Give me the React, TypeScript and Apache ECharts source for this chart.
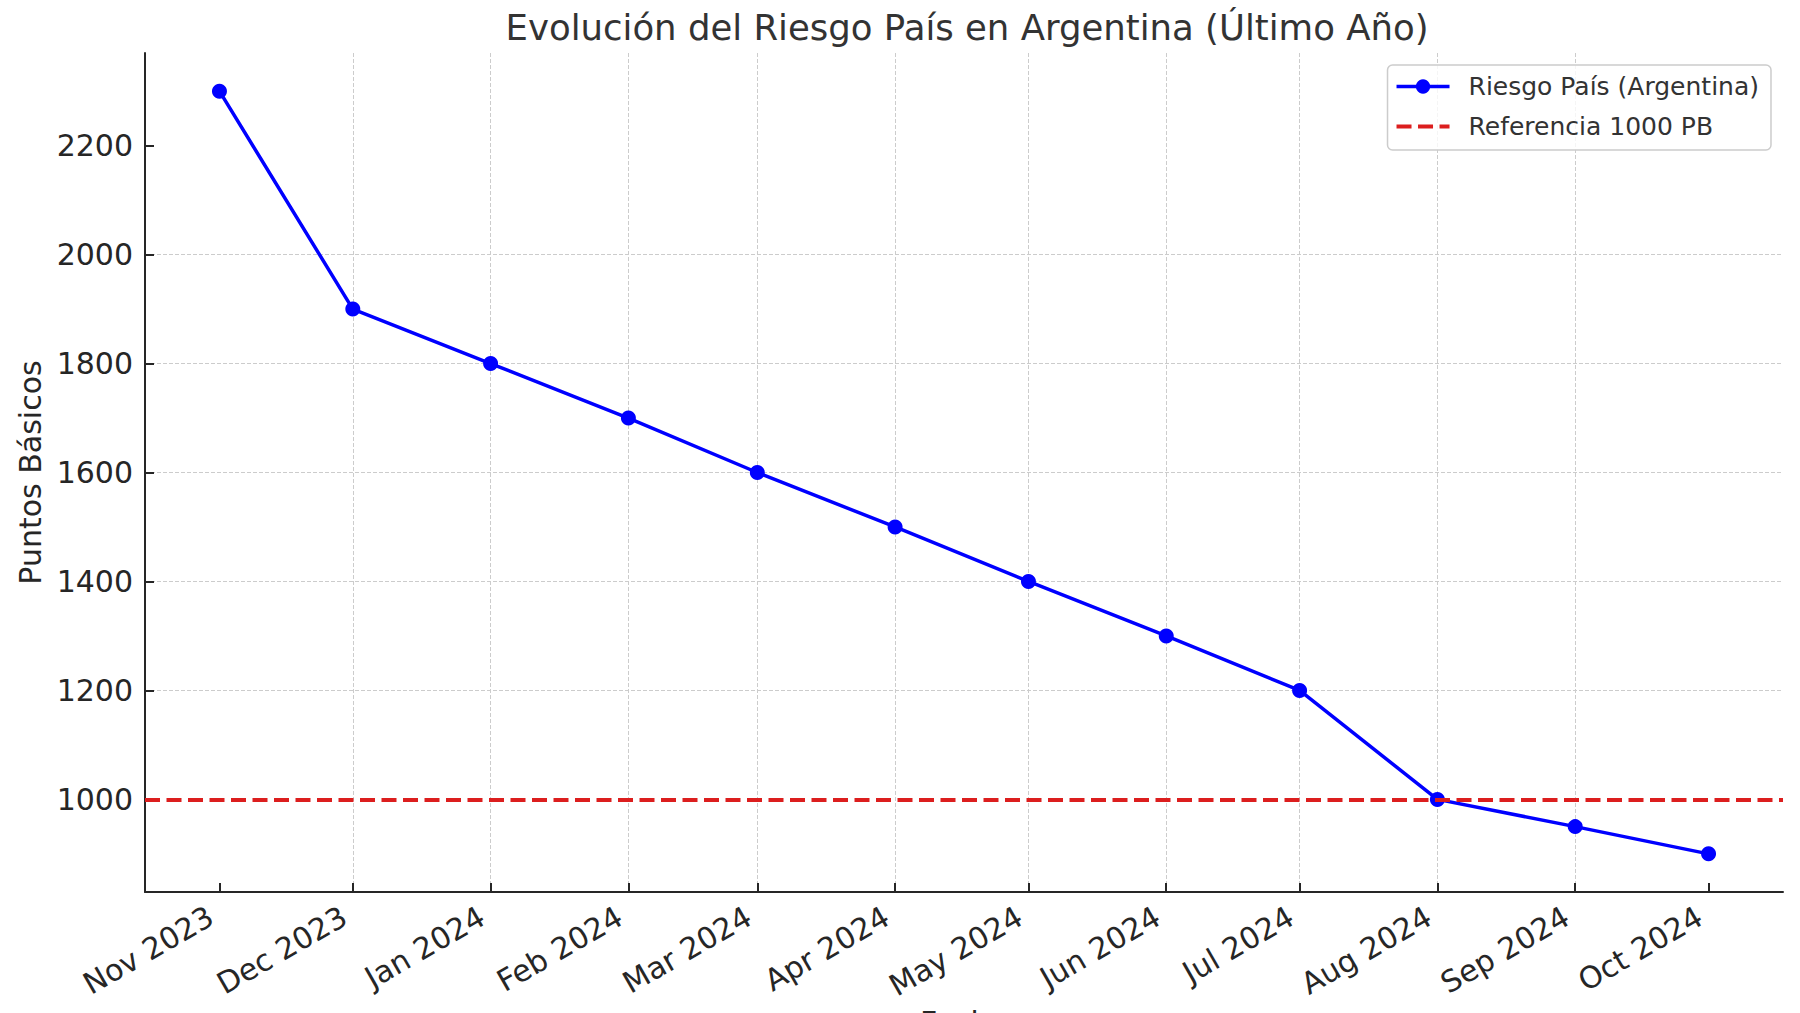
import React, { useEffect, useRef } from "react";
import * as echarts from "echarts";

// ---- data ----
const fechas = [
  "2023-11-01", "2023-12-01", "2024-01-01", "2024-02-01", "2024-03-01", "2024-04-01",
  "2024-05-01", "2024-06-01", "2024-07-01", "2024-08-01", "2024-09-01", "2024-10-01",
];
const riesgoPais = [2300, 1900, 1800, 1700, 1600, 1500, 1400, 1300, 1200, 1000, 950, 900];
const referencia = 1000;
const yTicks = [1000, 1200, 1400, 1600, 1800, 2000, 2200];
const yMin = 830;
const yMax = 2370;
const mesesAbrev = ["Jan", "Feb", "Mar", "Apr", "May", "Jun", "Jul", "Aug", "Sep", "Oct", "Nov", "Dec"];

const titulo = "Evolución del Riesgo País en Argentina (Último Año)";
const nombreSerie = "Riesgo País (Argentina)";
const nombreRef = "Referencia 1000 PB";
const nombreEjeY = "Puntos Básicos";
const nombreEjeX = "Fecha";

const FONT = "DejaVu Sans";
const BLUE = "#0000ff";
const RED = "#dc1e1e";
const DARK = "#262626";

function parseLocal(s: string): number {
  const [y, m, d] = s.split("-").map(Number);
  return new Date(y, m - 1, d).getTime();
}

export default function App() {
  const ref = useRef<HTMLDivElement>(null);

  useEffect(() => {
    if (!ref.current) return;
    const chart = echarts.init(ref.current, undefined, { renderer: "svg" });
    const ts = fechas.map(parseLocal);
    const span = ts[ts.length - 1] - ts[0];
    const xMin = ts[0] - span * 0.05;
    const xMax = ts[ts.length - 1] + span * 0.05;

    const option: any = {
      animation: false,
      backgroundColor: "#ffffff",
      textStyle: { fontFamily: FONT },
      title: {
        text: titulo,
        left: 962,
        top: 4,
        textAlign: "center",
        textStyle: { fontFamily: FONT, fontSize: 35.5, fontWeight: "normal", color: "#333333" },
      },
      legend: {
        orient: "vertical",
        right: 29,
        top: 65,
        padding: [9, 12, 11, 7],
        itemGap: 15,
        itemWidth: 53,
        itemHeight: 18,
        borderColor: "#cccccc",
        borderWidth: 1.5,
        borderRadius: 5,
        backgroundColor: "rgba(255,255,255,0.8)",
        textStyle: { fontFamily: FONT, fontSize: 25, color: "#333333", padding: [0, 0, 0, 14] },
        data: [
          { name: nombreSerie, lineStyle: { width: 3.5, color: BLUE } },
          { name: nombreRef, itemStyle: { opacity: 0 }, lineStyle: { width: 4, color: RED, type: [15, 6.5] } },
        ],
      },
      grid: {
        left: 145,
        right: 17,
        top: 53,
        bottom: 121,
        containLabel: false,
        outerBoundsMode: "none",
      },
      xAxis: {
        type: "value",
        min: xMin,
        max: xMax,
        scale: true,
        name: nombreEjeX,
        nameLocation: "middle",
        nameGap: 113,
        nameTextStyle: { fontFamily: FONT, fontSize: 30, color: DARK },
        axisLine: { show: true, lineStyle: { color: DARK, width: 2 } },
        axisTick: { show: true, inside: true, length: 9, lineStyle: { color: DARK, width: 2 }, customValues: ts },
        axisLabel: {
          customValues: ts,
          rotate: 30,
          margin: 17,
          padding: [0, 10, 0, 0],
          fontFamily: FONT,
          fontSize: 30,
          color: DARK,
          hideOverlap: false,
          formatter: (v: number) => {
            const d = new Date(v);
            return mesesAbrev[d.getMonth()] + " " + d.getFullYear();
          },
        },
        splitLine: {
          show: true,
          showMinLine: false,
          showMaxLine: false,
          lineStyle: { color: "#cccccc", width: 1, type: [4, 2] },
        },
      },
      yAxis: {
        type: "value",
        min: yMin,
        max: yMax,
        splitNumber: 8,
        name: nombreEjeY,
        nameLocation: "middle",
        nameRotate: 90,
        nameGap: 93,
        nameTextStyle: { fontFamily: FONT, fontSize: 30, color: DARK },
        axisLine: { show: true, lineStyle: { color: DARK, width: 2 } },
        axisTick: { show: true, inside: true, length: 9, lineStyle: { color: DARK, width: 2 }, customValues: yTicks },
        axisLabel: {
          customValues: yTicks,
          margin: 12,
          fontFamily: FONT,
          fontSize: 30,
          color: DARK,
          formatter: (v: number) => String(v),
        },
        splitLine: {
          show: true,
          showMinLine: false,
          showMaxLine: false,
          lineStyle: { color: "#cccccc", width: 1, type: [4, 2] },
        },
      },
      series: [
        {
          name: nombreSerie,
          type: "line",
          z: 2,
          data: ts.map((t, i) => [t, riesgoPais[i]]),
          symbol: "circle",
          symbolSize: 15,
          showSymbol: true,
          lineStyle: { color: BLUE, width: 3.5 },
          itemStyle: { color: BLUE },
        },
        {
          name: nombreRef,
          type: "line",
          z: 3,
          data: [],
          symbol: "none",
          lineStyle: { color: RED, width: 4, type: [15, 6.5] },
          itemStyle: { color: RED },
          markLine: {
            silent: true,
            symbol: ["none", "none"],
            label: { show: false },
            lineStyle: { color: RED, width: 4, type: [15, 6.5] },
            data: [{ yAxis: referencia }],
          },
        },
      ],
    };
    chart.setOption(option);
    return () => chart.dispose();
  }, []);

  return (
    <div
      ref={ref}
      style={{ position: "fixed", left: 0, top: 0, width: 1800, height: 1013, background: "#fff" }}
    />
  );
}
